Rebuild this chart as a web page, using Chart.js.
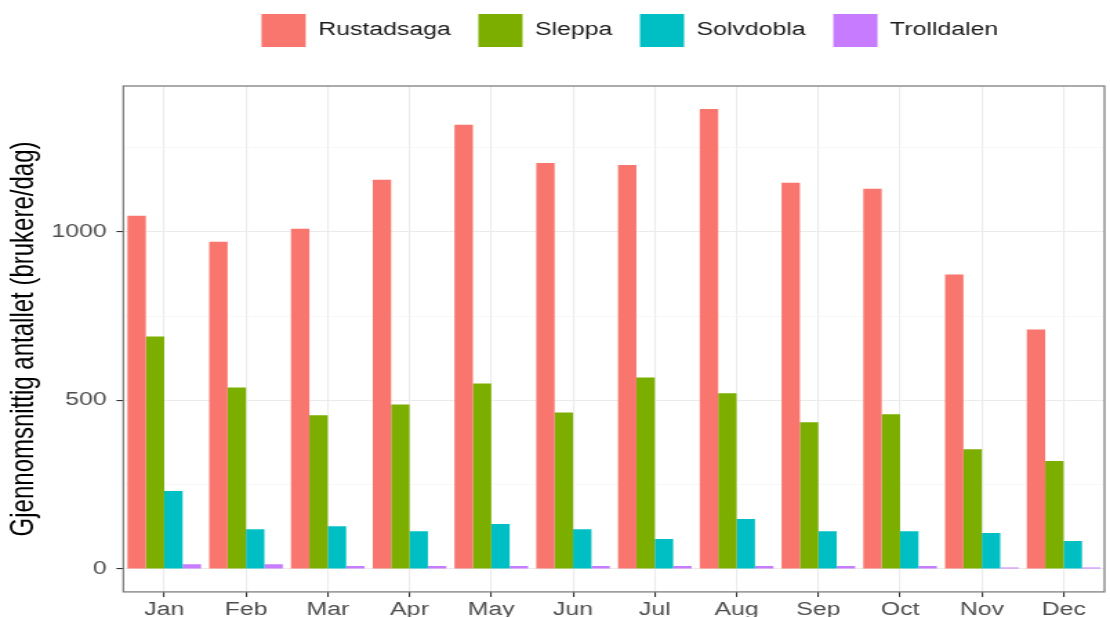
<!DOCTYPE html>
<html>
<head>
<meta charset="utf-8">
<script src="https://cdn.jsdelivr.net/npm/chart.js@4.4.1/dist/chart.umd.min.js"></script>
<style>
  html, body { margin: 0; padding: 0; background: #fff; overflow: hidden; }
  /* the reference is stretched sideways, so draw narrow and widen with css */
  #wrap { width: 804px; height: 617px; transform: scaleX(1.3806); transform-origin: 0 0; }
</style>
</head>
<body>
<div id="wrap"><canvas id="barsMonth" width="804" height="617"></canvas></div>
<script>
const months = ['Jan', 'Feb', 'Mar', 'Apr', 'May', 'Jun', 'Jul', 'Aug', 'Sep', 'Oct', 'Nov', 'Dec'];
const rustadsaga = [1047, 970, 1009, 1154, 1317, 1204, 1198, 1364, 1145, 1127, 873, 710];
const sleppa = [689, 538, 456, 488, 550, 464, 568, 521, 435, 459, 355, 320];
const solvdobla = [231, 118, 127, 112, 133, 118, 89, 148, 112, 112, 107, 83];
const trolldalen = [14, 14, 9, 9, 9, 9, 9, 9, 9, 9, 4, 4];
const yTicks = [0, 250, 500, 750, 1000, 1250];
const yLabelled = [0, 500, 1000];

const fontFamily = "'Liberation Sans', Arial, sans-serif";

function isMajor(v) {
  return yLabelled.includes(v);
}

// panel border like ggplot theme_bw
const panelBorder = {
  id: 'panelBorder',
  afterDatasetsDraw(chart) {
    const a = chart.chartArea;
    const ctx = chart.ctx;
    ctx.save();
    ctx.strokeStyle = '#7f7f7f';
    ctx.lineWidth = 1.3;
    ctx.strokeRect(a.left, a.top, a.right - a.left, a.bottom - a.top);
    ctx.restore();
  },
};

// more room under the legend and nudge it a little to the right
const legendSpace = {
  id: 'legendSpace',
  beforeInit(chart) {
    const fitValue = chart.legend.fit;
    chart.legend.fit = function fit() {
      fitValue.bind(chart.legend)();
      this.height += 29;
    };
  },
  afterLayout(chart) {
    chart.legend.left += 11.5;
    chart.legend.right += 11.5;
  },
};

function makeSet(label, values, colour) {
  return {
    label: label,
    backgroundColor: colour,
    borderWidth: 0,
    data: values,
    categoryPercentage: 0.9,
    barPercentage: 1.0,
  };
}

const barConfig = {
  type: 'bar',
  data: {
    labels: months,
    datasets: [
      makeSet('Rustadsaga', rustadsaga, '#F8766D'),
      makeSet('Sleppa', sleppa, '#7CAE00'),
      makeSet('Solvdobla', solvdobla, '#00BFC4'),
      makeSet('Trolldalen', trolldalen, '#C77CFF'),
    ],
  },
  options: {
    responsive: false,
    animation: false,
    layout: {
      padding: { left: 1, right: 4, top: -6, bottom: -5.5 },
    },
    plugins: {
      legend: {
        position: 'top',
        fullSize: false,
        labels: {
          boxWidth: 32,
          boxHeight: 33,
          padding: 20,
          color: '#1a1a1a',
          font: { family: fontFamily, size: 18 },
        },
      },
      tooltip: { enabled: false },
    },
    scales: {
      x: {
        offset: true,
        border: { display: false },
        grid: {
          offset: false,
          color: '#ebebeb',
          lineWidth: 1.1,
          drawTicks: true,
          tickLength: 5,
          tickColor: '#333333',
        },
        ticks: {
          color: '#4d4d4d',
          padding: 2,
          font: { family: fontFamily, size: 18, lineHeight: 1.2 },
        },
      },
      y: {
        min: -68,
        max: 1432,
        border: { display: false },
        afterBuildTicks: (axis) => {
          axis.ticks = yTicks.map((v) => ({ value: v }));
        },
        grid: {
          color: (c) => (isMajor(c.tick.value) ? '#ebebeb' : '#f4f4f4'),
          lineWidth: (c) => (isMajor(c.tick.value) ? 1.1 : 0.6),
          drawTicks: true,
          tickLength: 5,
          tickColor: (c) => (isMajor(c.tick.value) ? '#333333' : 'rgba(0,0,0,0)'),
        },
        ticks: {
          color: '#4d4d4d',
          padding: 7,
          font: { family: fontFamily, size: 18 },
          callback: (v) => (isMajor(v) ? String(v) : ''),
        },
        title: {
          display: true,
          text: 'Gjennomsnittig antallet (brukere/dag)',
          color: '#000000',
          padding: { top: 2, bottom: -1.5 },
          font: { family: fontFamily, size: 24 },
        },
      },
    },
  },
  plugins: [panelBorder, legendSpace],
};

const barsCtx = document.getElementById('barsMonth');
window.myBar = new Chart(barsCtx, barConfig);
</script>
</body>
</html>
